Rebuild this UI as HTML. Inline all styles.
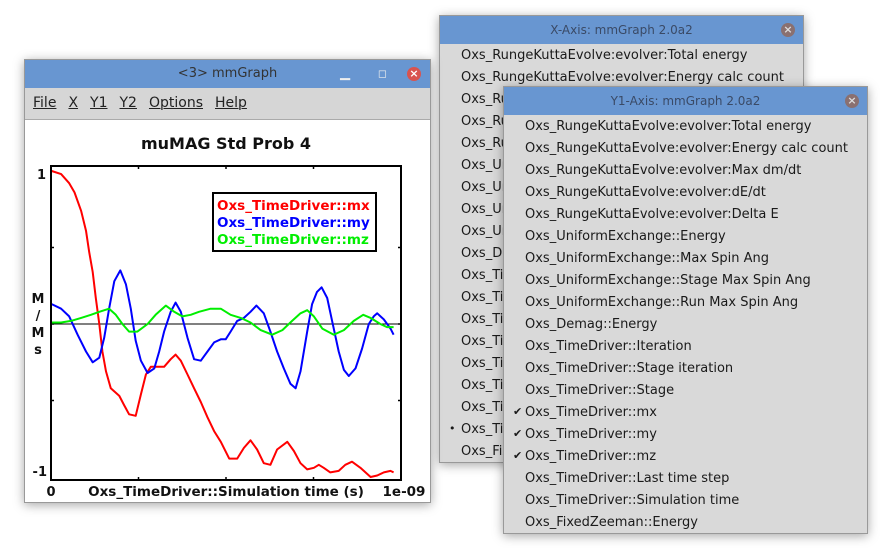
<!DOCTYPE html>
<html><head><meta charset="utf-8"><style>
body{margin:0;width:884px;height:553px;background:#fff;position:relative;overflow:hidden;font-family:"DejaVu Sans","Liberation Sans",sans-serif;}
.win{position:absolute;background:#d9d9d9;box-shadow:0 2px 10px rgba(0,0,0,0.35);border:1px solid #999;box-sizing:border-box;}
.tb{position:absolute;left:0;right:0;top:0;height:28px;background:#6896d1;color:#3a4a66;font-size:12px;text-align:center;line-height:28px;}
.close{position:absolute;width:14px;height:14px;border-radius:50%;background:#8a7070;color:#ddd;font-size:11px;line-height:14px;text-align:center;font-weight:bold;}
.item{position:absolute;font-size:13px;color:#1a1a1a;white-space:nowrap;}
.menu span{margin-right:12px;text-decoration:underline;text-decoration-thickness:1px;}
</style></head><body>

<div class="win" style="left:439px;top:15px;width:365px;height:448px;">
<div class="tb">X-Axis: mmGraph 2.0a2<div class="close" style="right:8px;top:7px;">×</div></div>
<div id="xlist"></div>
</div>

<div class="win" style="left:503px;top:86px;width:365px;height:448px;">
<div class="tb">Y1-Axis: mmGraph 2.0a2<div class="close" style="right:8px;top:7px;">×</div></div>
<div id="ylist"></div>
</div>

<div class="win" style="left:24px;top:59px;width:407px;height:444px;background:#fff;">
<div class="tb" style="color:#333;font-size:13px;">&lt;3&gt; mmGraph
<span style="position:absolute;right:80px;top:0;color:#eee;">▁</span>
<span style="position:absolute;right:43px;top:0;color:#eee;font-size:11px;">◻</span>
<div class="close" style="right:9px;top:7px;background:#d9534f;color:#fff;">×</div></div>
<div class="menu" style="position:absolute;left:0;right:0;top:28px;height:31px;background:#d6d6d6;border-bottom:1px solid #aaa;font-size:14px;line-height:31px;padding-left:8px;color:#222;">
<span>File</span><span>X</span><span>Y1</span><span>Y2</span><span>Options</span><span>Help</span></div>
</div>

<svg id="chart" width="884" height="553" style="position:absolute;left:0;top:0;" font-family="DejaVu Sans, Liberation Sans, sans-serif" font-weight="bold"></svg>

<script>
const xItems=["Oxs_RungeKuttaEvolve:evolver:Total energy","Oxs_RungeKuttaEvolve:evolver:Energy calc count","Oxs_RungeKuttaEvolve:evolver:Max dm/dt","Oxs_RungeKuttaEvolve:evolver:dE/dt","Oxs_RungeKuttaEvolve:evolver:Delta E","Oxs_UniformExchange::Energy","Oxs_UniformExchange::Max Spin Ang","Oxs_UniformExchange::Stage Max Spin Ang","Oxs_UniformExchange::Run Max Spin Ang","Oxs_Demag::Energy","Oxs_TimeDriver::Iteration","Oxs_TimeDriver::Stage iteration","Oxs_TimeDriver::Stage","Oxs_TimeDriver::mx","Oxs_TimeDriver::my","Oxs_TimeDriver::mz","Oxs_TimeDriver::Last time step","Oxs_TimeDriver::Simulation time","Oxs_FixedZeeman::Energy"];
const xMarked=[17];
const yMarked=[13,14,15];
// chart data (t in ns)
const mxT=[0.002,0.029,0.052,0.067,0.086,0.100,0.109,0.119,0.128,0.138,0.147,0.157,0.171,0.195,0.209,0.223,0.242,0.257,0.271,0.285,0.323,0.342,0.356,0.371,0.390,0.409,0.428,0.447,0.466,0.485,0.509,0.532,0.551,0.570,0.589,0.608,0.627,0.646,0.675,0.694,0.713,0.732,0.751,0.765,0.779,0.798,0.822,0.841,0.860,0.884,0.913,0.932,0.951,0.970,0.979];
const mxV=[1.0,0.98,0.92,0.86,0.74,0.61,0.47,0.34,0.17,0,-0.18,-0.31,-0.42,-0.47,-0.53,-0.59,-0.60,-0.46,-0.33,-0.28,-0.28,-0.23,-0.20,-0.24,-0.33,-0.42,-0.51,-0.61,-0.70,-0.77,-0.88,-0.88,-0.81,-0.76,-0.82,-0.91,-0.92,-0.82,-0.77,-0.83,-0.91,-0.95,-0.94,-0.92,-0.94,-0.97,-0.96,-0.92,-0.90,-0.94,-1.0,-0.99,-0.97,-0.96,-0.97];
const myT=[0.002,0.029,0.052,0.076,0.100,0.119,0.138,0.152,0.166,0.181,0.198,0.214,0.228,0.242,0.257,0.276,0.295,0.309,0.323,0.342,0.356,0.371,0.390,0.409,0.428,0.447,0.466,0.485,0.499,0.513,0.532,0.551,0.570,0.587,0.608,0.627,0.646,0.665,0.684,0.699,0.713,0.732,0.746,0.760,0.773,0.789,0.803,0.822,0.837,0.851,0.870,0.889,0.908,0.922,0.932,0.951,0.970,0.979];
const myV=[0.13,0.10,0.05,-0.07,-0.18,-0.25,-0.22,-0.09,0.10,0.28,0.35,0.26,0.10,-0.11,-0.24,-0.32,-0.29,-0.18,-0.05,0.08,0.14,0.08,-0.09,-0.23,-0.24,-0.18,-0.12,-0.10,-0.10,-0.05,0.02,0.04,0.08,0.12,0.07,-0.05,-0.18,-0.29,-0.39,-0.42,-0.31,-0.05,0.13,0.21,0.24,0.17,0.02,-0.18,-0.30,-0.34,-0.29,-0.16,0,0.05,0.07,0.03,-0.03,-0.07];
const mzT=[0.002,0.029,0.057,0.086,0.114,0.138,0.166,0.185,0.204,0.223,0.247,0.276,0.299,0.328,0.352,0.375,0.399,0.423,0.456,0.485,0.513,0.542,0.570,0.599,0.632,0.661,0.689,0.713,0.732,0.751,0.775,0.808,0.837,0.865,0.892,0.913,0.941,0.960,0.979];
const mzV=[0.01,0.01,0.02,0.04,0.06,0.08,0.10,0.06,0,-0.05,-0.05,0,0.06,0.12,0.08,0.05,0.06,0.08,0.10,0.10,0.06,0.04,0.01,-0.04,-0.07,-0.04,0.02,0.07,0.09,0.05,-0.03,-0.07,-0.04,0.02,0.06,0.04,0,-0.02,-0.02];
const xTicks=[0.25,0.5,0.75];
const yTicks=[-0.5,0,0.5];
const legendLabels=["Oxs_TimeDriver::mx","Oxs_TimeDriver::my","Oxs_TimeDriver::mz"];
const colors=["#ff0000","#0000ff","#00ee00"];

function buildList(id,marked,mark,left){
  const c=document.getElementById(id);
  xItems.forEach((t,i)=>{
    const d=document.createElement('div');
    d.className='item';
    d.style.left=left+'px';d.style.top=(32+i*22)+'px';
    d.textContent=t;
    
    
    c.appendChild(d);
    if(marked.includes(i)){
      const m=document.createElement('div');
      m.className='item';m.style.left=(left-12)+'px';m.style.top=(32+i*22)+'px';m.style.fontSize='11px';
      m.textContent=mark;
      
      
      c.appendChild(m);
    }
  });
}
buildList('xlist',xMarked,'•',21);
buildList('ylist',yMarked,'✔',21);

const NS='http://www.w3.org/2000/svg';
const svg=document.getElementById('chart');
const L=51,R=401,T=166,B=480;
const xs=t=>L+(t/1.0)*(R-L);
const ys=v=>324-v*153;
function el(tag,attrs,name,inter){const e=document.createElementNS(NS,tag);for(const k in attrs)e.setAttribute(k,attrs[k]);


svg.appendChild(e);return e;}
function txt(x,y,s,size,fill,anchor,name){const e=el('text',{x:x,y:y,'font-size':size,fill:fill,'text-anchor':anchor||'start'},name,false);e.textContent=s;return e;}

txt(226,149,"muMAG Std Prob 4",16,"#111","middle","chart-title");
el('line',{x1:L,y1:ys(0),x2:R,y2:ys(0),stroke:'#000','stroke-width':1},'zero-line',false);
xTicks.forEach(t=>{el('line',{x1:xs(t),y1:T,x2:xs(t),y2:T+3,stroke:'#000','stroke-width':1.5},'x-tick-top',false);el('line',{x1:xs(t),y1:B,x2:xs(t),y2:B-3,stroke:'#000','stroke-width':1.5},'x-tick',false);});
yTicks.forEach(v=>{el('line',{x1:L,y1:ys(v),x2:L+3,y2:ys(v),stroke:'#000','stroke-width':1.5},'y-tick',false);el('line',{x1:R,y1:ys(v),x2:R-3,y2:ys(v),stroke:'#000','stroke-width':1.5},'y-tick-right',false);});
[[mxT,mxV,'mx-line'],[myT,myV,'my-line'],[mzT,mzV,'mz-line']].forEach((s,k)=>{
  const pts=s[0].map((t,i)=>xs(t).toFixed(1)+','+ys(s[1][i]).toFixed(1)).join(' ');
  el('polyline',{points:pts,fill:'none',stroke:colors[k],'stroke-width':2,'stroke-linejoin':'round'},s[2],false);
});
el('rect',{x:L,y:T,width:R-L,height:B-T,fill:'none',stroke:'#000','stroke-width':2},'plot-frame',false);
el('rect',{x:213,y:193,width:163,height:58,fill:'#fff',stroke:'#000','stroke-width':2},'legend-box',false);
legendLabels.forEach((s,i)=>txt(217,210+i*17,s,13.5,colors[i],'start','legend-entry'));
txt(46,179,"1",13,"#111","end","y-tick-label-max");
txt(47,476,"-1",13,"#111","end","y-tick-label-min");
txt(51,496,"0",13,"#111","middle","x-tick-label-min");
txt(404,496,"1e-09",13.5,"#111","middle","x-tick-label-max");
txt(226,496,"Oxs_TimeDriver::Simulation time (s)",13.5,"#111","middle","x-axis-title");
["M","/","M","s"].forEach((s,i)=>txt(38,303+i*17,s,13,"#111","middle","y-axis-title"));
</script>
</body></html>
